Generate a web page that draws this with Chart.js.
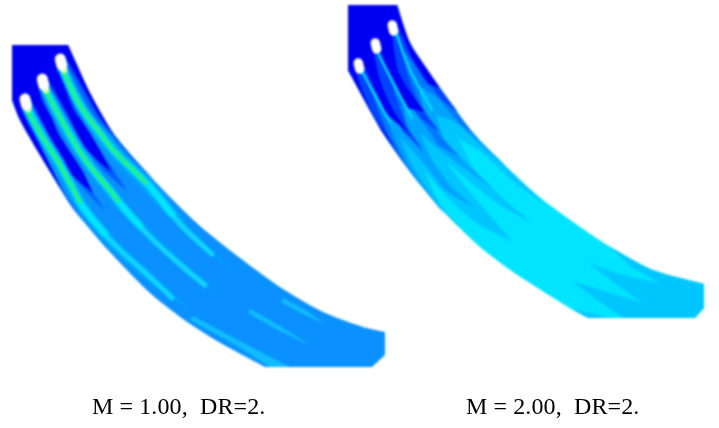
<!DOCTYPE html>
<html>
<head>
<meta charset="utf-8">
<script src="https://cdn.jsdelivr.net/npm/chart.js@4"></script>
<style>
  body { margin: 0; background: #fff; }
  #wrap { position: relative; width: 719px; height: 428px; overflow: hidden; }
  #flow { position: absolute; left: 0; top: 0; filter: blur(0.8px); }
  .caption { position: absolute; top: 393px; font: 24px "Liberation Serif", serif; color: #000; white-space: pre; letter-spacing: 0.1px; }
</style>
</head>
<body>
<div id="wrap">
  <canvas id="flow" width="719" height="428"></canvas>
  <div class="caption" style="left:92px">M = 1.00,  DR=2.</div>
  <div class="caption" style="left:466px">M = 2.00,  DR=2.</div>
</div>
<script>
// left panel, M = 1.00
const leftBand = [[12,45],[68,45],[90,93],[113,133],[140,165],[170,197],[200,226],[240,258],[283,289],[323,312],[363,327],[385,332],[385,355],[372,367],[265,367],[217,341],[183,319],[150,293],[108,250],[72,207],[43,160],[20,120],[12,100]];
const leftMid = [[12,45],[68,45],[90,93],[113,133],[140,165],[155,180],[133,160],[111,135],[94,116],[79,90],[63,58],[58,62],[68,92],[80,115],[94,142],[110,165],[128,192],[98,165],[84,140],[66,115],[52,92],[45,78],[40,82],[46,105],[58,130],[72,155],[88,185],[106,212],[76,180],[59,150],[43,125],[27,96],[22,100],[28,125],[40,150],[58,182],[82,220],[72,207],[43,160],[20,120],[12,100]];
const leftDeep = [[12,45],[68,45],[90,93],[113,133],[128,150],[114,135],[99,116],[84,90],[68,62],[61,54],[56,62],[66,90],[74,110],[88,130],[100,150],[112,173],[87,150],[75,130],[65,110],[54,90],[44,74],[37,80],[42,100],[52,118],[59,135],[82,170],[93,193],[67,170],[57,150],[46,130],[36,110],[26,92],[19,98],[24,114],[35,135],[50,165],[65,195],[43,160],[20,120],[12,100]];
const leftWakes = [
  [[66,66],[88,108],[118,146],[155,183],[188,225],[233,272],[183,231],[145,192],[108,154],[78,112],[57,69]],
  [[48,85],[60,106],[72,128],[98,168],[127,204],[154,234],[220,295],[150,240],[118,210],[88,172],[62,132],[50,110],[39,88]],
  [[31,106],[45,130],[62,157],[88,204],[115,238],[155,276],[193,312],[145,279],[105,243],[78,210],[52,163],[35,135],[22,110]]
];
const leftStreaks = [
  [[62,67],[72,90],[83,110],[100,133],[113,150],[133,170],[150,187],[172,214]],
  [[44,86],[55,108],[67,130],[80,152],[93,170],[110,190],[123,207],[140,226]],
  [[27,108],[40,133],[57,160],[70,183],[83,207],[105,234]]
];
const leftThin = [
  [[150,187],[183,227],[212,254]],
  [[123,207],[150,237],[183,267],[205,285]],
  [[83,207],[110,240],[150,277],[172,298]]
];
const leftCores = [
  [[63,70],[72,90],[83,110],[100,133],[113,150],[133,170],[146,183]],
  [[45,90],[55,108],[67,130],[80,152],[93,170],[110,190],[118,201]],
  [[28,112],[40,133],[57,160],[70,183],[80,202]]
];
const leftTails = [
  [[283,298],[305,310],[327,325],[303,314],[281,302]],
  [[250,309],[280,326],[310,345],[278,330],[248,313]],
  [[193,316],[240,341],[290,367],[270,367],[237,346],[190,320]]
];
const leftGlows = [[[26,103],[28,109]], [[44,84],[46,90]], [[62,64],[64,70]]];
const leftHeads = [[[25,99],[26.5,105]], [[42.3,79],[43.8,85]], [[60.3,59],[61.8,65]]];

// right panel, M = 2.00
const rightBand = [[348,5],[397,5],[410,43],[440,88],[473,133],[517,177],[547,203],[607,245],[653,270],[704,284],[704,308],[695,318],[588,318],[573,310],[513,272],[480,247],[447,215],[415,178],[383,133],[348,70]];
const rightEnd = [[607,245],[653,270],[704,284],[704,308],[695,318],[623,318],[593,297],[572,281],[607,292],[643,303],[620,287],[589,263],[623,275],[660,283],[633,268]];
const rightEndLow = [[573,310],[590,313],[610,318],[588,318]];
const rightPale = [[348,5],[397,5],[410,43],[440,88],[473,133],[517,177],[543,203],[515,183],[485,155],[458,138],[475,170],[505,200],[532,223],[500,205],[470,182],[445,160],[460,180],[485,210],[513,242],[480,225],[450,200],[424,170],[438,200],[458,225],[480,247],[447,215],[415,178],[383,133],[348,70]];
const rightSky = [[348,5],[397,5],[410,43],[440,88],[473,133],[505,165],[480,145],[455,122],[436,115],[445,140],[468,165],[495,190],[460,165],[440,150],[420,133],[432,160],[450,185],[475,208],[445,190],[425,165],[400,137],[412,165],[428,190],[445,215],[415,178],[383,133],[348,70]];
const rightBlue = [[348,5],[397,5],[410,43],[440,88],[473,133],[480,140],[458,122],[438,98],[418,85],[424,110],[440,135],[460,157],[438,145],[420,118],[402,100],[408,130],[425,155],[443,173],[420,150],[403,125],[385,112],[393,135],[405,160],[420,185],[415,178],[383,133],[348,70]];
const rightMid = [[348,5],[397,5],[410,43],[440,88],[458,112],[440,98],[422,72],[405,52],[407,72],[420,105],[440,132],[420,118],[403,90],[388,70],[397,100],[408,128],[423,150],[404,132],[389,108],[372,88],[376,105],[390,138],[405,165],[383,133],[348,70]];
const rightDeep = [[348,5],[397,5],[410,43],[425,66],[440,88],[428,84],[414,62],[402,35],[397,26],[392,35],[398,70],[410,92],[425,112],[408,108],[395,88],[384,62],[378,42],[373,50],[380,80],[392,108],[408,132],[388,115],[375,90],[365,68],[359,58],[354,66],[362,90],[375,118],[395,147],[383,133],[348,70]];
const rightStreaks = [
  [[397,35],[410,70],[432,110]],
  [[379,55],[397,90],[412,118]],
  [[363,73],[383,110],[390,122]]
];
const rightHeads = [[[358.3,63],[359.7,69]], [[375.3,43],[376.7,49]], [[392.3,25],[393.7,31]]];

// repeat a point where the outline turns hard, keeps the corner sharp under tension
function sharpen(points) {
  const out = [];
  points.forEach((p, i) => {
    const a = points[(i - 1 + points.length) % points.length];
    const b = points[(i + 1) % points.length];
    const diff = Math.atan2(b[1] - p[1], b[0] - p[0]) - Math.atan2(p[1] - a[1], p[0] - a[0]);
    const turn = Math.abs(Math.atan2(Math.sin(diff), Math.cos(diff)));
    out.push(p);
    if (turn > 0.4) out.push(p);
  });
  return out;
}

// chart.js paints the first dataset last, so layers go in front
const datasets = [];
function shape(points, color) {
  datasets.unshift({
    data: sharpen(points).map(([x, y]) => ({ x, y })),
    showLine: true, fill: "shape", backgroundColor: color,
    borderWidth: 0, pointRadius: 0, tension: 0.25,
  });
}
function stroke(points, color, width) {
  datasets.unshift({
    data: points.map(([x, y]) => ({ x, y })),
    showLine: true, fill: false, borderColor: color,
    borderWidth: width, borderCapStyle: "round", pointRadius: 0, tension: 0.4,
  });
}

shape(leftBand, "#0a90ff");
shape(leftMid, "#0060ff");
shape(leftDeep, "#0000f2");
leftWakes.forEach((w) => shape(w, "#00a4ff"));
leftTails.forEach((t) => shape(t, "#10bcff"));
leftThin.forEach((s) => stroke(s, "#10d4ff", 5));
leftStreaks.forEach((s) => stroke(s, "#00e4ff", 7));
leftCores.forEach((c) => stroke(c, "#28f078", 3.5));
leftGlows.forEach((g) => stroke(g, "#d8ff90", 7));
leftHeads.forEach((h) => stroke(h, "#ffffff", 11));

shape(rightBand, "#00e4ff");
shape(rightEnd, "#00c6ff");
shape(rightEndLow, "#00c6ff");
shape(rightPale, "#00c6ff");
shape(rightSky, "#00a4ff");
shape(rightBlue, "#0078ff");
shape(rightMid, "#0044ff");
shape(rightDeep, "#0000f2");
rightStreaks.forEach((s) => stroke(s, "#00dcff", 2.5));
rightHeads.forEach((h) => stroke(h, "#ffffff", 9.5));

new Chart(document.getElementById("flow"), {
  type: "scatter",
  data: { datasets },
  options: {
    responsive: false,
    animation: false,
    layout: { padding: 0 },
    plugins: { legend: { display: false }, tooltip: { enabled: false } },
    scales: {
      x: { type: "linear", min: 0, max: 719, display: false },
      y: { type: "linear", min: 0, max: 428, reverse: true, display: false },
    },
  },
});
</script>
</body>
</html>
